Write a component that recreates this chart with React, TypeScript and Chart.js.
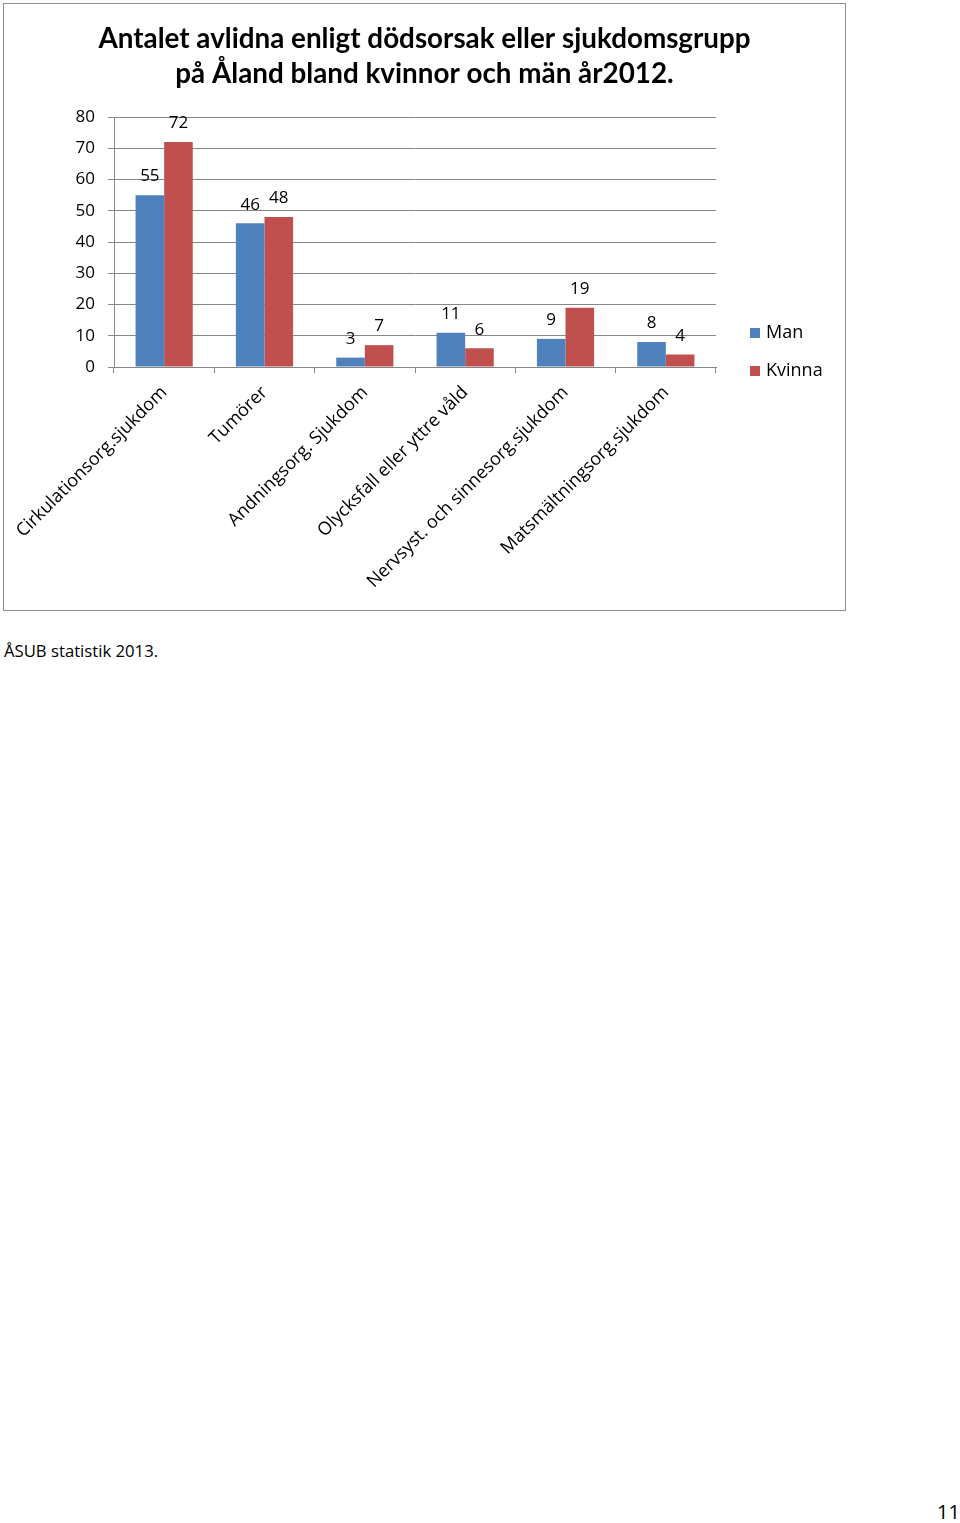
import React, { useEffect, useRef } from "react";
import { Chart, registerables } from "chart.js";

Chart.register(...registerables);

const categories = [
  "Cirkulationsorg.sjukdom",
  "Tumörer",
  "Andningsorg. Sjukdom",
  "Olycksfall eller yttre våld",
  "Nervsyst. och sinnesorg.sjukdom",
  "Matsmältningsorg.sjukdom",
];
const manValues = [55, 46, 3, 11, 9, 8];
const kvinnaValues = [72, 48, 7, 6, 19, 4];
const seriesNames = ["Man", "Kvinna"];
const titleLines = [
  "Antalet avlidna enligt dödsorsak eller sjukdomsgrupp",
  "på Åland bland kvinnor och män år2012.",
];

const FONT = "'Open Sans', 'DejaVu Sans', sans-serif";
const TITLE_FONT = "Lato, 'Open Sans', sans-serif";
const GRID = "#868686";

const centeredTitle = {
  id: "centeredTitle",
  afterDraw(chart: any) {
    const ctx = chart.ctx;
    ctx.save();
    ctx.font = `bold 27.8px ${TITLE_FONT}`;
    ctx.fillStyle = "#000";
    ctx.textAlign = "center";
    ctx.textBaseline = "middle";
    const cx = chart.width / 2;
    titleLines.forEach((line, i) => {
      ctx.fillText(line, cx, 35 + i * 35);
    });
    ctx.restore();
  },
};

const valueLabels = {
  id: "valueLabels",
  afterDatasetsDraw(chart: any) {
    const ctx = chart.ctx;
    ctx.save();
    ctx.font = `17px ${FONT}`;
    ctx.fillStyle = "#000";
    ctx.textAlign = "center";
    ctx.textBaseline = "bottom";
    chart.data.datasets.forEach((ds: any, i: number) => {
      const meta = chart.getDatasetMeta(i);
      meta.data.forEach((bar: any, j: number) => {
        ctx.fillText(String(ds.data[j]), bar.x, bar.y - 10);
      });
    });
    ctx.restore();
  },
};

const sideLegend = {
  id: "sideLegend",
  afterDraw(chart: any) {
    const ctx = chart.ctx;
    const area = chart.chartArea;
    ctx.save();
    ctx.font = `18px ${FONT}`;
    ctx.textBaseline = "middle";
    ctx.textAlign = "left";
    chart.data.datasets.forEach((ds: any, i: number) => {
      const cy = area.top + 216 + i * 38;
      const x = area.right + 34;
      ctx.fillStyle = ds.backgroundColor;
      ctx.fillRect(x, cy - 5, 10, 10);
      ctx.fillStyle = "#000";
      ctx.fillText(ds.label, x + 16, cy);
    });
    ctx.restore();
  },
};

export default function App() {
  const ref = useRef<HTMLCanvasElement | null>(null);
  useEffect(() => {
    if (!ref.current) return;
    const chart = new Chart(ref.current, {
      type: "bar",
      data: {
        labels: categories,
        datasets: [
          { label: seriesNames[0], data: manValues, backgroundColor: "#4F81BD" },
          { label: seriesNames[1], data: kvinnaValues, backgroundColor: "#C0504D" },
        ],
      },
      options: {
        animation: false,
        responsive: false,
        maintainAspectRatio: false,
        layout: { padding: { left: 0, right: 129, top: 113, bottom: 0 } },
        datasets: { bar: { categoryPercentage: 0.57, barPercentage: 1 } },
        plugins: {
          legend: { display: false },
          tooltip: { enabled: false },
          title: { display: false },
        },
        scales: {
          x: {
            grid: {
              drawOnChartArea: false,
              drawTicks: true,
              tickLength: 6,
              color: GRID,
              offset: true,
            },
            border: { color: GRID },
            ticks: {
              color: "#000",
              font: { family: FONT, size: 18 },
              maxRotation: 45,
              minRotation: 45,
              autoSkip: false,
              padding: 9,
            },
            afterFit(scale: any) {
              scale.height = 243;
              scale.paddingLeft = 0;
              scale.paddingRight = 0;
            },
          },
          y: {
            min: 0,
            max: 80,
            ticks: {
              stepSize: 10,
              color: "#000",
              font: { family: FONT, size: 17 },
              padding: 13,
            },
            grid: { color: GRID, tickLength: 6 },
            border: { color: GRID },
            afterFit(scale: any) {
              scale.width = 110;
            },
          },
        },
      },
      plugins: [valueLabels, sideLegend, centeredTitle],
    });
    return () => chart.destroy();
  }, []);

  return (
    <div style={{ position: "absolute", left: 0, top: 0, width: 960, height: 1523, background: "#fff", fontFamily: FONT }}>
      <div
        style={{
          position: "absolute",
          left: 3,
          top: 3,
          width: 843,
          height: 608,
          border: "1px solid #8f8f8f",
          boxSizing: "border-box",
        }}
      >
        <canvas ref={ref} width={841} height={606} style={{ display: "block" }} />
      </div>
      <div style={{ position: "absolute", left: 4, top: 639, fontSize: 16.7, color: "#000", whiteSpace: "nowrap" }}>
        ÅSUB statistik 2013.
      </div>
      <div style={{ position: "absolute", left: 937, top: 1498, fontSize: 20, color: "#000" }}>11</div>
    </div>
  );
}
